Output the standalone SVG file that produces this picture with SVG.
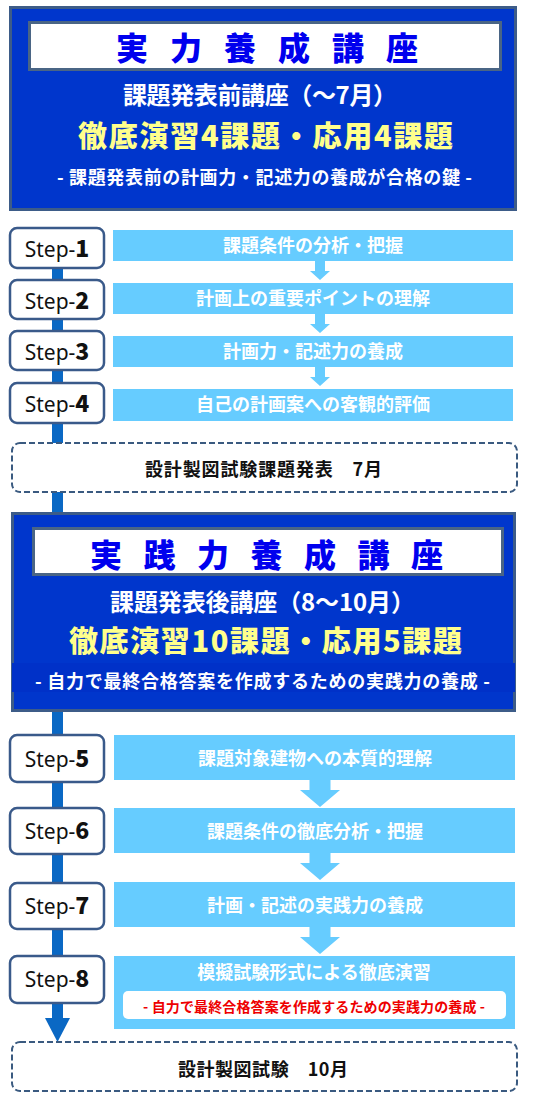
<svg xmlns="http://www.w3.org/2000/svg" width="534" height="1103" viewBox="0 0 534 1103">
<style>
.jp{font-family:"Noto Sans CJK JP","Noto Sans CJK SC",sans-serif;font-weight:700}
.hv{font-family:"Noto Sans CJK JP","Noto Sans CJK SC",sans-serif;font-weight:900}
.outer{fill:#0036cc;stroke:#3d5c88;stroke-width:3}
.tbox{fill:#ffffff;stroke:#4a6585;stroke-width:3}
.ttl{fill:#0000ee;font-size:32px}
.wt{fill:#ffffff}
.yl{fill:#ffff8c;font-size:29px}
.step{fill:#ffffff;stroke:#3a5a8a;stroke-width:2.5}
.bar{fill:#66ccff}
.bt{fill:#ffffff;font-size:18px;text-anchor:middle}
.dash{fill:#ffffff;stroke:#3a5a80;stroke-width:2;stroke-dasharray:6 3}
.st{font-family:"Noto Sans","Liberation Sans",sans-serif;font-size:21px;fill:#111111;text-anchor:middle}
.dg{font-family:"Noto Sans CJK JP","DejaVu Sans",sans-serif;font-weight:900;font-size:23px}
.conn{stroke:#0a68c4;stroke-width:11;fill:none}
.arw{fill:#66ccff}
</style>

<g id="connectors">
  <line class="conn" x1="57.5" y1="268" x2="57.5" y2="512"/>
  <line class="conn" x1="57.5" y1="712" x2="57.5" y2="1019"/>
  <polygon points="45,1018 70,1018 57.5,1042" fill="#0a68c4"/>
  <polygon class="arw" points="315,260 325,260 325,271 330,271 320,280 310,271 315,271"/>
  <polygon class="arw" points="315,313 325,313 325,324 330,324 320,333 310,324 315,324"/>
  <polygon class="arw" points="315,367 325,367 325,377 330,377 320,386 310,377 315,377"/>
  <polygon class="arw" points="309.5,779 330.5,779 330.5,790 340,790 320,807 300,790 309.5,790"/>
  <polygon class="arw" points="309.5,852 330.5,852 330.5,863 340,863 320,880 300,863 309.5,863"/>
  <polygon class="arw" points="309.5,926 330.5,926 330.5,937 340,937 320,954 300,937 309.5,937"/>
</g>

<g id="header1">
  <rect class="outer" x="10.5" y="7.5" width="505" height="202"/>
  <rect class="tbox" x="29.5" y="22.5" width="471" height="47"/>
  <text class="hv ttl" x="116 170 224 278 332 386" y="60">実力養成講座</text>
  <text class="jp wt" x="260" y="104" font-size="24" text-anchor="middle" textLength="274">課題発表前講座（～7月）</text>
  <text class="hv yl" x="265.5" y="147" text-anchor="middle" textLength="375">徹底演習4課題・応用4課題</text>
  <text class="jp wt" x="264.5" y="184" font-size="18" text-anchor="middle" textLength="415">- 課題発表前の計画力・記述力の養成が合格の鍵 -</text>
</g>

<g id="step1">
  <rect class="step" x="10" y="228" width="94" height="40" rx="7"/>
  <text class="st" x="57" y="257">Step-<tspan class="dg">1</tspan></text>
  <rect class="bar" x="113" y="230" width="400" height="31"/>
  <text class="jp bt" x="313" y="252">課題条件の分析・把握</text>
</g>
<g id="step2">
  <rect class="step" x="10" y="280" width="94" height="39" rx="7"/>
  <text class="st" x="57" y="309">Step-<tspan class="dg">2</tspan></text>
  <rect class="bar" x="113" y="283" width="400" height="31"/>
  <text class="jp bt" x="313" y="305">計画上の重要ポイントの理解</text>
</g>
<g id="step3">
  <rect class="step" x="10" y="331" width="94" height="39" rx="7"/>
  <text class="st" x="57" y="360">Step-<tspan class="dg">3</tspan></text>
  <rect class="bar" x="113" y="336" width="400" height="31"/>
  <text class="jp bt" x="313" y="358">計画力・記述力の養成</text>
</g>
<g id="step4">
  <rect class="step" x="10" y="383" width="94" height="40" rx="7"/>
  <text class="st" x="57" y="412">Step-<tspan class="dg">4</tspan></text>
  <rect class="bar" x="113" y="389" width="400" height="32"/>
  <text class="jp bt" x="313" y="411">自己の計画案への客観的評価</text>
</g>

<g id="exam1">
  <rect class="dash" x="12" y="443" width="505" height="49" rx="8"/>
  <text class="jp" x="263.5" y="476" font-size="18" fill="#111111" text-anchor="middle" textLength="237">設計製図試験課題発表　7月</text>
</g>

<g id="header2">
  <rect class="outer" x="12.5" y="513.5" width="502" height="197"/>
  <rect x="12" y="663" width="503" height="29" fill="#0031c8"/>
  <rect class="tbox" x="33.5" y="528.5" width="469" height="46"/>
  <text class="hv ttl" x="90 143.5 197 250.5 304 357.5 411" y="567">実践力養成講座</text>
  <text class="jp wt" x="262.5" y="611" font-size="24" text-anchor="middle" textLength="305">課題発表後講座（8～10月）</text>
  <text class="hv yl" x="265.5" y="652" text-anchor="middle" textLength="393">徹底演習10課題・応用5課題</text>
  <text class="jp wt" x="262.5" y="688" font-size="18" text-anchor="middle" textLength="455">- 自力で最終合格答案を作成するための実践力の養成 -</text>
</g>

<g id="step5">
  <rect class="step" x="10" y="735" width="94" height="47" rx="7"/>
  <text class="st" x="57" y="767">Step-<tspan class="dg">5</tspan></text>
  <rect class="bar" x="114" y="735" width="401" height="45"/>
  <text class="jp bt" x="315" y="765" font-size="19">課題対象建物への本質的理解</text>
</g>
<g id="step6">
  <rect class="step" x="10" y="808" width="94" height="46" rx="7"/>
  <text class="st" x="57" y="839">Step-<tspan class="dg">6</tspan></text>
  <rect class="bar" x="114" y="808" width="401" height="45"/>
  <text class="jp bt" x="315" y="838" font-size="18">課題条件の徹底分析・把握</text>
</g>
<g id="step7">
  <rect class="step" x="10" y="883" width="94" height="46" rx="7"/>
  <text class="st" x="57" y="914">Step-<tspan class="dg">7</tspan></text>
  <rect class="bar" x="114" y="882" width="401" height="45"/>
  <text class="jp bt" x="315" y="912">計画・記述の実践力の養成</text>
</g>
<g id="step8">
  <rect class="step" x="10" y="956" width="94" height="47" rx="7"/>
  <text class="st" x="57" y="987">Step-<tspan class="dg">8</tspan></text>
  <rect class="bar" x="114" y="956" width="401" height="73"/>
  <text class="jp bt" x="314" y="979" font-size="18.5">模擬試験形式による徹底演習</text>
  <rect x="123" y="991" width="383" height="28" rx="5" fill="#ffffff"/>
  <text class="jp" x="314" y="1012" font-size="14" fill="#ee0000" text-anchor="middle" textLength="342">- 自力で最終合格答案を作成するための実践力の養成 -</text>
</g>

<g id="exam2">
  <rect class="dash" x="12" y="1042" width="505" height="49" rx="8"/>
  <text class="jp" x="263" y="1076" font-size="18" fill="#111111" text-anchor="middle" textLength="170">設計製図試験　10月</text>
</g>
</svg>
